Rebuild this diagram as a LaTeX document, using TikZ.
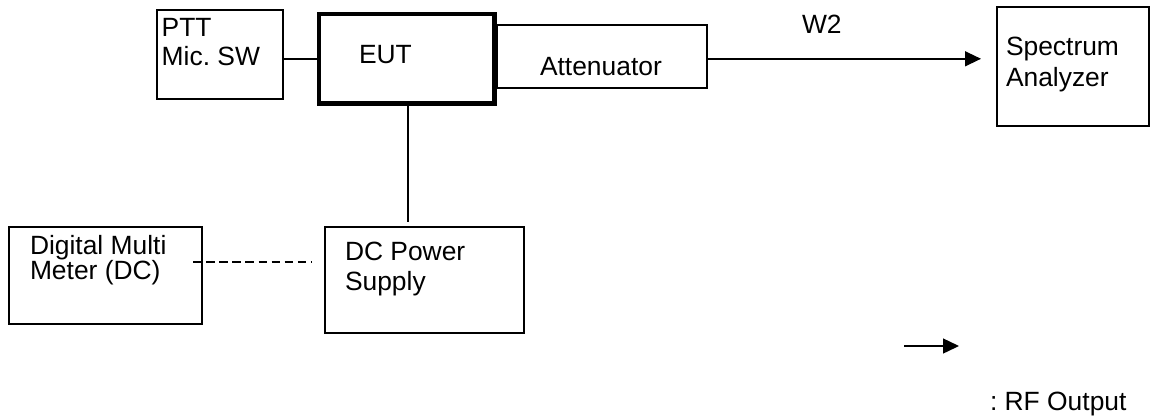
\documentclass[tikz,border=0pt]{standalone}
\usepackage{fontspec}
\setmainfont{Liberation Sans}
\usetikzlibrary{arrows.meta}
\frenchspacing
\tikzset{
  x=1pt,y=-1pt,
  boxnode/.style={draw=black,line width=1.7pt,fill=white,inner sep=0pt,outer sep=0pt,anchor=north west},
  lbl/.style={inner sep=0pt,outer sep=0pt,anchor=base west,font=\fontsize{26.4}{30}\selectfont\frenchspacing,align=left},
  conn/.style={draw=black,line width=1.4pt},
  tip/.style={-{Triangle[length=16pt,width=15pt]}}
}
\begin{document}
\begin{tikzpicture}
\useasboundingbox (0,0) rectangle (1155,416);
\node[boxnode,minimum width=126.6pt,minimum height=89pt] (ptt) at (156.7,10.3) {};
\node[boxnode,minimum width=210pt,minimum height=63pt] (att) at (496.7,25) {};
\node[boxnode,line width=4.7pt,minimum width=175.3pt,minimum height=89.4pt] (eut) at (319,14) {};
\node[boxnode,minimum width=152.6pt,minimum height=119pt] (sa) at (996.7,6.7) {};
\node[boxnode,minimum width=192.4pt,minimum height=97pt] (dmm) at (9.3,226.7) {};
\node[boxnode,minimum width=198.7pt,minimum height=105.4pt] (dc) at (325,227.3) {};
\node[lbl] (t1) at (161.7,36) {PTT};
\node[lbl] (t2) at (161.7,65.7) {Mic. SW};
\node[lbl] (t3) at (359,63.3) {EUT};
\node[lbl] (t4) at (540,75) {Attenuator};
\node[lbl] (t5) at (1006,55) {Spectrum};
\node[lbl] (t6) at (1006,86.7) {Analyzer};
\node[lbl] (t7) at (30,254.3) {Digital Multi};
\node[lbl] (t8) at (30,279) {Meter (DC)};
\node[lbl] (t9) at (345,260.7) {DC Power};
\node[lbl] (t10) at (345,290) {Supply};
\node[lbl] (t11) at (802,33) {W2};
\node[lbl] (t12) at (990,410) {: RF Output};
\coordinate (a1) at (981,58.8);
\coordinate (v1) at (408,221.7);
\coordinate (l1) at (904,346);
\coordinate (l2) at (959,346);
\coordinate (d1) at (193,262);
\coordinate (d2) at (312,262);
\draw[conn] (ptt.east |- a1) -- (eut.west |- a1);
\draw[conn] (eut.south -| v1) -- (v1);
\draw[conn,tip] (att.east |- a1) -- (a1);
\draw[conn,dash pattern=on 8.5pt off 4.6pt] (d1) -- (d2);
\draw[conn,tip] (l1) -- (l2);
\end{tikzpicture}
\end{document}
